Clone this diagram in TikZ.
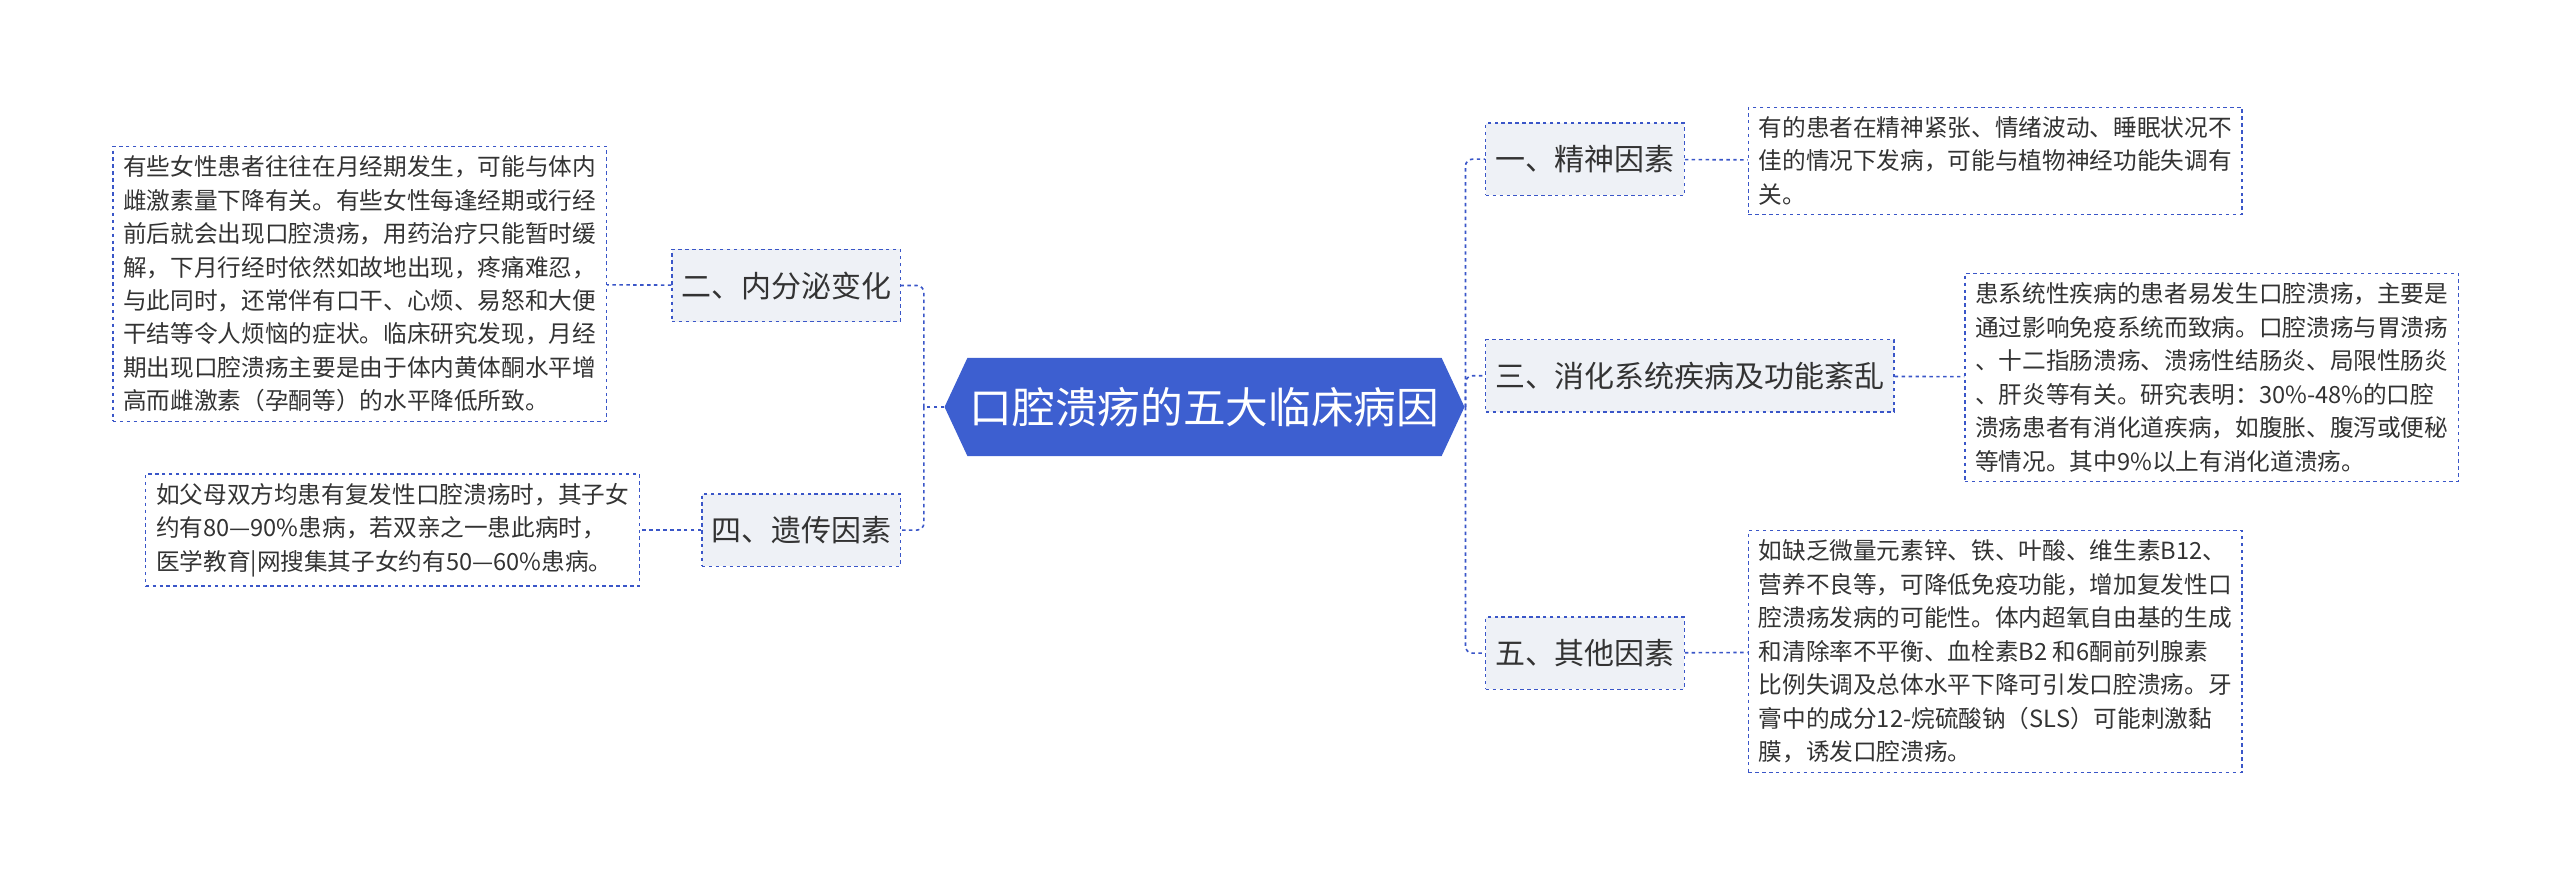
\documentclass[tikz,border=0pt]{standalone}
\usepackage{fontspec}
\setmainfont{Noto Sans CJK SC}
\usetikzlibrary{positioning}
\usetikzlibrary{shapes.symbols}
\definecolor{lnblue}{HTML}{3A56C8}
\definecolor{hubblue}{HTML}{3D5FD0}
\definecolor{lblfill}{HTML}{EEF1F6}
\definecolor{txtgray}{HTML}{333333}
\begin{document}
\begin{tikzpicture}[x=0.05cm, y=-0.05cm,
  hub/.style={signal, signal to=west and east, signal pointer angle=130, fill=hubblue, text=white,
    font=\fontsize{37}{44}\selectfont, minimum height=60*0.05cm, minimum width=312*0.05cm, inner xsep=2pt},
  lbl/.style={draw=lnblue, dashed, line width=1.1pt, fill=lblfill, text=txtgray,
    font=\fontsize{26}{32}\selectfont, minimum height=44*0.05cm, inner xsep=8pt},
  note/.style={draw=lnblue, dashed, line width=1.1pt, text=txtgray, align=left,
    font=\fontsize{20.5}{29}\selectfont, inner xsep=9pt, inner ysep=8pt},
  link/.style={draw=lnblue, dashed, line width=1.4pt, rounded corners=6pt}]
\useasboundingbox (0,0) rectangle (1560,532);

\node[hub] (hub) at (734,248) {口腔溃疡的五大临床病因};

% left side
\node[lbl, anchor=east] (endo) at (549,174) {二、内分泌变化};
\node[lbl, anchor=east] (gene) at (549,323) {四、遗传因素};
\node[note, anchor=east] (endoT) at (370,173) {有些女性患者往往在月经期发生，可能与体内\\雌激素量下降有关。有些女性每逢经期或行经\\前后就会出现口腔溃疡，用药治疗只能暂时缓\\解，下月行经时依然如故地出现，疼痛难忍，\\与此同时，还常伴有口干、心烦、易怒和大便\\干结等令人烦恼的症状。临床研究发现，月经\\期出现口腔溃疡主要是由于体内黄体酮水平增\\高而雌激素（孕酮等）的水平降低所致。};
\node[note, anchor=east] (geneT) at (390,323) {如父母双方均患有复发性口腔溃疡时，其子女\\约有80—90\%患病，若双亲之一患此病时，\\医学教育|网搜集其子女约有50—60\%患病。};

% right side
\node[lbl, anchor=west] (mind) at (905,97) {一、精神因素};
\node[lbl, anchor=west] (digest) at (905,229) {三、消化系统疾病及功能紊乱};
\node[lbl, anchor=west] (other) at (905,398) {五、其他因素};
\node[note, anchor=west] (mindT) at (1065,98) {有的患者在精神紧张、情绪波动、睡眠状况不\\佳的情况下发病，可能与植物神经功能失调有\\关。};
\node[note, anchor=west] (digestT) at (1197,230) {患系统性疾病的患者易发生口腔溃疡，主要是\\通过影响免疫系统而致病。口腔溃疡与胃溃疡\\、十二指肠溃疡、溃疡性结肠炎、局限性肠炎\\、肝炎等有关。研究表明：30\%-48\%的口腔\\溃疡患者有消化道疾病，如腹胀、腹泻或便秘\\等情况。其中9\%以上有消化道溃疡。};
\node[note, anchor=west] (otherT) at (1065,397) {如缺乏微量元素锌、铁、叶酸、维生素B12、\\营养不良等，可降低免疫功能，增加复发性口\\腔溃疡发病的可能性。体内超氧自由基的生成\\和清除率不平衡、血栓素B2 和6酮前列腺素\\比例失调及总体水平下降可引发口腔溃疡。牙\\膏中的成分12-烷硫酸钠（SLS）可能刺激黏\\膜，诱发口腔溃疡。};

\coordinate (lj) at (563,248);
\coordinate (rj) at (893,248);
\draw[link] (hub.west) -- (lj);
\draw[link] (hub.east) -- (rj);
\draw[link] (lj) |- (endo.east);
\draw[link] (lj) |- (gene.east);
\draw[link] (rj) |- (mind.west);
\draw[link] (rj) |- (digest.west);
\draw[link] (rj) |- (other.west);
\draw[link] (endo) -- (endoT);
\draw[link] (gene) -- (geneT);
\draw[link] (mind) -- (mindT);
\draw[link] (digest) -- (digestT);
\draw[link] (other) -- (otherT);
\end{tikzpicture}
\end{document}
